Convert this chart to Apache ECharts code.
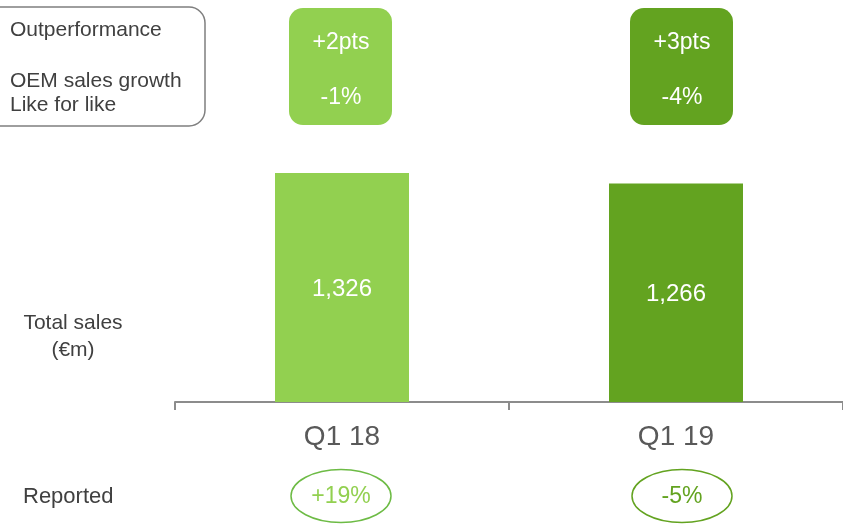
<!DOCTYPE html>
<html>
<head>
<meta charset="utf-8">
<script src="https://cdn.jsdelivr.net/npm/echarts@6/dist/echarts.min.js"></script>
<style>
  html, body { margin: 0; padding: 0; background: #fff; }
  #chart { width: 843px; height: 524px; }
</style>
</head>
<body>
<div id="chart"></div>
<script>
// Quarterly figures
const categories = ['Q1 18', 'Q1 19'];
const totalSales = [1326, 1266];
const outperformance = ['+2pts', '+3pts'];
const oemGrowth = ['-1%', '-4%'];
const reported = ['+19%', '-5%'];
const barColors = ['#92D050', '#63A320'];
const reportedColors = ['#92D050', '#63A320'];
const ringColors = ['#6DBB45', '#63A320'];

const FONT = '"Liberation Sans", Arial, sans-serif';
// horizontal nudge (px) of the badge/ring annotations relative to each category centre
const badgeNudge = [-1, 6];

const chart = echarts.init(document.getElementById('chart'));

chart.setOption({
  animation: false,
  grid: { left: 175, right: 0, top: 143, bottom: 122 },
  xAxis: {
    type: 'category',
    data: categories,
    axisLine: { lineStyle: { color: '#8C8C8C', width: 2 } },
    axisTick: { show: true, length: 8, lineStyle: { color: '#8C8C8C', width: 2 } },
    axisLabel: { color: '#595959', fontSize: 28, fontFamily: FONT, margin: 21 }
  },
  yAxis: {
    type: 'value', min: 0, max: 1500,
    show: false, splitLine: { show: false }
  },
  series: [{
    type: 'bar',
    barWidth: 134,
    data: totalSales.map((v, i) => ({ value: v, itemStyle: { color: barColors[i] } })),
    label: {
      show: true, position: 'inside', offset: [0, 2], color: '#fff', fontSize: 24, fontFamily: FONT,
      formatter: p => p.value.toLocaleString('en-US')
    }
  }]
});

// Annotation boxes placed at each category's axis position
const graphics = [];
graphics.push({
  type: 'rect', shape: { x: -20, y: 7, width: 225, height: 119, r: 16 },
  style: { fill: '#fff', stroke: '#7F7F7F', lineWidth: 1.5 }
});
const sideText = (text, x, y, align, size) => ({
  type: 'text', x, y,
  style: { text, fill: '#404040', font: (size || 21) + 'px ' + FONT, align: align || 'left', verticalAlign: 'middle' }
});
graphics.push(sideText('Outperformance', 10, 30));
graphics.push(sideText('OEM sales growth', 10, 81));
graphics.push(sideText('Like for like', 10, 105));
graphics.push(sideText('Total sales', 73, 323, 'center'));
graphics.push(sideText('(€m)', 73, 350, 'center'));
graphics.push(sideText('Reported', 23, 497, 'left', 22));

categories.forEach((c, i) => {
  const cx = chart.convertToPixel({ xAxisIndex: 0 }, c) + badgeNudge[i];
  graphics.push({
    type: 'rect', shape: { x: cx - 52, y: 8, width: 103, height: 117, r: 14 },
    style: { fill: barColors[i] }
  });
  graphics.push({
    type: 'text', x: cx, y: 43,
    style: { text: outperformance[i], fill: '#fff', font: '23px ' + FONT, align: 'center', verticalAlign: 'middle' }
  });
  graphics.push({
    type: 'text', x: cx, y: 98,
    style: { text: oemGrowth[i], fill: '#fff', font: '23px ' + FONT, align: 'center', verticalAlign: 'middle' }
  });
  graphics.push({
    type: 'ellipse', shape: { cx: cx, cy: 496, rx: 50, ry: 26.5 },
    style: { fill: 'none', stroke: ringColors[i], lineWidth: 1.5 }
  });
  graphics.push({
    type: 'text', x: cx, y: 497,
    style: { text: reported[i], fill: reportedColors[i], font: '23px ' + FONT, align: 'center', verticalAlign: 'middle' }
  });
});

chart.setOption({ graphic: graphics });
</script>
</body>
</html>
